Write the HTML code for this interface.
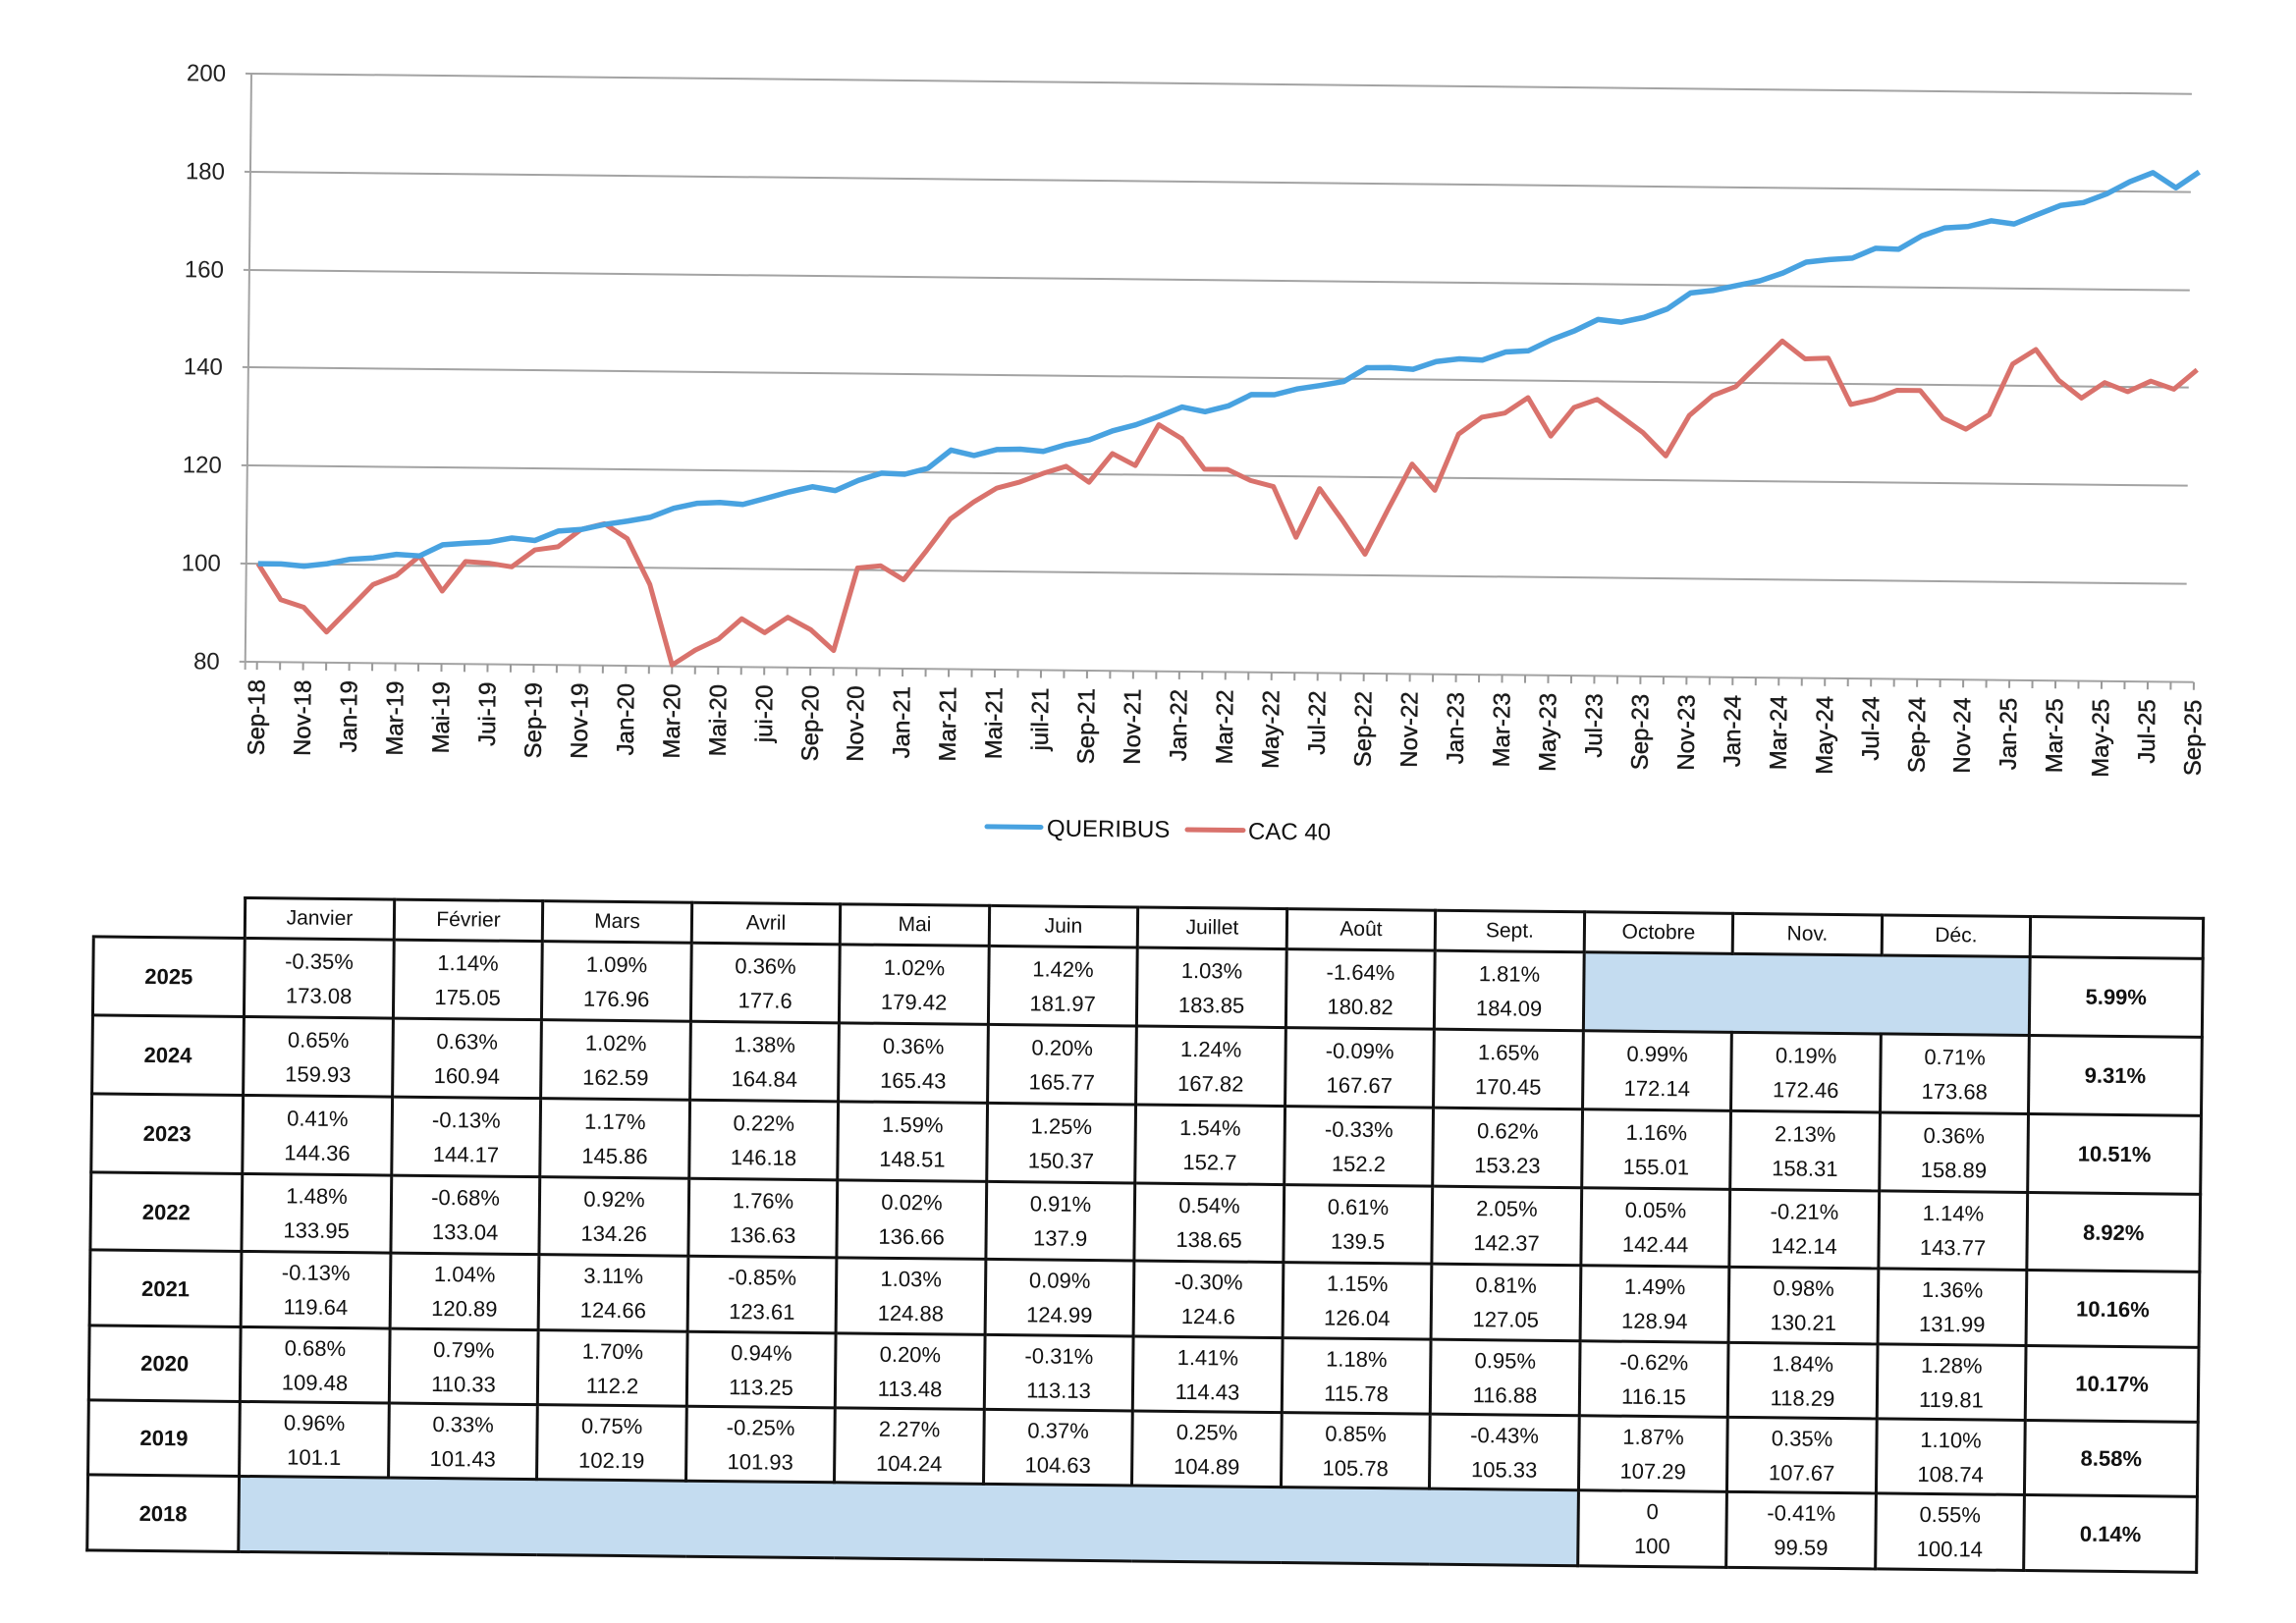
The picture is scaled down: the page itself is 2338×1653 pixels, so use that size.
<!DOCTYPE html>
<html><head><meta charset="utf-8"><style>
html,body{margin:0;padding:0;background:#fff}
#page{position:relative;width:2338px;height:1653px;overflow:hidden;background:#fff;font-family:"Liberation Sans",sans-serif}
#rot{position:absolute;left:0;top:0;width:2338px;height:1653px;transform-origin:256px 75px;transform:rotate(0.6deg)}
svg{position:absolute;left:0;top:0}
table{position:absolute;left:103px;top:913px;border-collapse:collapse;table-layout:fixed;color:#111;font-size:22px}
td{border:3px solid #111;text-align:center;vertical-align:middle;padding:0;line-height:35px}
td.y{font-weight:bold}
td.t{font-weight:bold}
td.b{background:#c4dcf0}
tr.h td{height:38px;line-height:38px;font-size:21px}
td.e{border:none;border-bottom:3px solid #111}
</style></head><body><div id="page"><div id="rot">
<svg width="2338" height="1653" viewBox="0 0 2338 1653">
<g stroke="#a3a3a3" stroke-width="2">
<line x1="256" y1="75" x2="2232" y2="75"/>
<line x1="256" y1="175" x2="2232" y2="175"/>
<line x1="256" y1="275" x2="2232" y2="275"/>
<line x1="256" y1="374" x2="2232" y2="374"/>
<line x1="256" y1="474" x2="2232" y2="474"/>
<line x1="256" y1="574" x2="2232" y2="574"/>
<line x1="250" y1="674" x2="2240" y2="674"/>
<line x1="256" y1="75" x2="256" y2="682"/>
<line x1="250" y1="75" x2="256" y2="75"/><line x1="250" y1="175" x2="256" y2="175"/><line x1="250" y1="275" x2="256" y2="275"/><line x1="250" y1="374" x2="256" y2="374"/><line x1="250" y1="474" x2="256" y2="474"/><line x1="250" y1="574" x2="256" y2="574"/>
</g>
<line x1="267" y1="678" x2="2242" y2="678" stroke="#999" stroke-width="8" stroke-dasharray="2 21.48"/>
<g font-size="24" fill="#222" text-anchor="end">
<text x="230" y="83">200</text><text x="230" y="183">180</text><text x="230" y="283">160</text><text x="230" y="382">140</text><text x="230" y="482">120</text><text x="230" y="582">100</text><text x="230" y="682">80</text>
</g>
<g transform="translate(268,1073) scale(23.48,-4.99)" fill="none" stroke-linejoin="round">
<polyline vector-effect="non-scaling-stroke" stroke="#d9726c" stroke-width="5" points="0,100 1,92.7 2,91.2 3,86.2 4,91.1 5,96 6,97.9 7,101.9 8,94.8 9,100.9 10,100.6 11,99.9 12,103.4 13,104.1 14,107.7 15,108.9 16,105.9 17,96.6 18,80.2 19,83.3 20,85.6 21,89.8 22,87 23,90.2 24,87.7 25,83.5 26,100.4 27,100.9 28,98.1 29,104.2 30,110.6 31,114.1 32,117 33,118.3 34,120.1 35,121.6 36,118.4 37,124.3 38,121.9 39,130.3 40,127.5 41,121.3 42,121.3 43,119.1 44,117.9 45,107.6 46,117.6 47,111.2 48,104.3 49,113.7 50,122.8 51,117.5 52,129 53,132.5 54,133.4 55,136.6 56,128.8 57,134.7 58,136.4 59,133.1 60,129.7 61,125 62,133.3 63,137.4 64,139.3 65,144 66,148.7 67,145.1 68,145.3 69,135.9 70,137 71,138.9 72,138.9 73,133.3 74,131.1 75,134.1 76,144.5 77,147.5 78,141.3 79,137.7 80,140.9 81,139.1 82,141.3 83,139.7 84,143.7"/>
<polyline vector-effect="non-scaling-stroke" stroke="#48a2e0" stroke-width="5.5" points="0,100 1,100 2,99.59 3,100.14 4,101.1 5,101.43 6,102.19 7,101.93 8,104.24 9,104.63 10,104.89 11,105.78 12,105.33 13,107.29 14,107.67 15,108.74 16,109.48 17,110.33 18,112.2 19,113.25 20,113.48 21,113.13 22,114.43 23,115.78 24,116.88 25,116.15 26,118.29 27,119.81 28,119.64 29,120.89 30,124.66 31,123.61 32,124.88 33,124.99 34,124.6 35,126.04 36,127.05 37,128.94 38,130.21 39,131.99 40,133.95 41,133.04 42,134.26 43,136.63 44,136.66 45,137.9 46,138.65 47,139.5 48,142.37 49,142.44 50,142.14 51,143.77 52,144.36 53,144.17 54,145.86 55,146.18 56,148.51 57,150.37 58,152.7 59,152.2 60,153.23 61,155.01 62,158.31 63,158.89 64,159.93 65,160.94 66,162.59 67,164.84 68,165.43 69,165.77 70,167.82 71,167.67 72,170.45 73,172.14 74,172.46 75,173.68 76,173.08 77,175.05 78,176.96 79,177.6 80,179.42 81,181.97 82,183.85 83,180.82 84,184.09"/>
</g>
<g font-size="24" fill="#1a1a1a" text-anchor="end" stroke="#1a1a1a" stroke-width="0.4">
<text transform="translate(276,692) rotate(-90)">Sep-18</text>
<text transform="translate(323,692) rotate(-90)">Nov-18</text>
<text transform="translate(370,692) rotate(-90)">Jan-19</text>
<text transform="translate(417,692) rotate(-90)">Mar-19</text>
<text transform="translate(464,692) rotate(-90)">Mai-19</text>
<text transform="translate(511,692) rotate(-90)">Jui-19</text>
<text transform="translate(558,692) rotate(-90)">Sep-19</text>
<text transform="translate(605,692) rotate(-90)">Nov-19</text>
<text transform="translate(652,692) rotate(-90)">Jan-20</text>
<text transform="translate(699,692) rotate(-90)">Mar-20</text>
<text transform="translate(746,692) rotate(-90)">Mai-20</text>
<text transform="translate(793,692) rotate(-90)">jui-20</text>
<text transform="translate(840,692) rotate(-90)">Sep-20</text>
<text transform="translate(886,692) rotate(-90)">Nov-20</text>
<text transform="translate(933,692) rotate(-90)">Jan-21</text>
<text transform="translate(980,692) rotate(-90)">Mar-21</text>
<text transform="translate(1027,692) rotate(-90)">Mai-21</text>
<text transform="translate(1074,692) rotate(-90)">juil-21</text>
<text transform="translate(1121,692) rotate(-90)">Sep-21</text>
<text transform="translate(1168,692) rotate(-90)">Nov-21</text>
<text transform="translate(1215,692) rotate(-90)">Jan-22</text>
<text transform="translate(1262,692) rotate(-90)">Mar-22</text>
<text transform="translate(1309,692) rotate(-90)">May-22</text>
<text transform="translate(1356,692) rotate(-90)">Jul-22</text>
<text transform="translate(1403,692) rotate(-90)">Sep-22</text>
<text transform="translate(1450,692) rotate(-90)">Nov-22</text>
<text transform="translate(1497,692) rotate(-90)">Jan-23</text>
<text transform="translate(1544,692) rotate(-90)">Mar-23</text>
<text transform="translate(1591,692) rotate(-90)">May-23</text>
<text transform="translate(1638,692) rotate(-90)">Jul-23</text>
<text transform="translate(1685,692) rotate(-90)">Sep-23</text>
<text transform="translate(1732,692) rotate(-90)">Nov-23</text>
<text transform="translate(1779,692) rotate(-90)">Jan-24</text>
<text transform="translate(1826,692) rotate(-90)">Mar-24</text>
<text transform="translate(1873,692) rotate(-90)">May-24</text>
<text transform="translate(1920,692) rotate(-90)">Jul-24</text>
<text transform="translate(1967,692) rotate(-90)">Sep-24</text>
<text transform="translate(2013,692) rotate(-90)">Nov-24</text>
<text transform="translate(2060,692) rotate(-90)">Jan-25</text>
<text transform="translate(2107,692) rotate(-90)">Mar-25</text>
<text transform="translate(2154,692) rotate(-90)">May-25</text>
<text transform="translate(2201,692) rotate(-90)">Jul-25</text>
<text transform="translate(2248,692) rotate(-90)">Sep-25</text>
</g>
<line x1="1013" y1="834" x2="1068" y2="834" stroke="#48a2e0" stroke-width="5" stroke-linecap="round"/>
<text x="1074" y="843" font-size="24" fill="#111">QUERIBUS</text>
<line x1="1217" y1="835" x2="1274" y2="835" stroke="#d9726c" stroke-width="5" stroke-linecap="round"/>
<text x="1279" y="844" font-size="24" fill="#111">CAC 40</text>
</svg>
<table>
<colgroup><col style="width:154px"><col style="width:152px"><col style="width:151px"><col style="width:152px"><col style="width:151px"><col style="width:152px"><col style="width:151px"><col style="width:152px"><col style="width:151px"><col style="width:152px"><col style="width:151px"><col style="width:152px"><col style="width:151px"><col style="width:176px"></colgroup>
<tr class="h"><td class="e"></td><td>Janvier</td><td>Février</td><td>Mars</td><td>Avril</td><td>Mai</td><td>Juin</td><td>Juillet</td><td>Août</td><td>Sept.</td><td>Octobre</td><td>Nov.</td><td>Déc.</td><td></td></tr>
<tr style="height:80px"><td class="y">2025</td><td>-0.35%<br>173.08</td><td>1.14%<br>175.05</td><td>1.09%<br>176.96</td><td>0.36%<br>177.6</td><td>1.02%<br>179.42</td><td>1.42%<br>181.97</td><td>1.03%<br>183.85</td><td>-1.64%<br>180.82</td><td>1.81%<br>184.09</td><td class="b" colspan="3"></td><td class="t">5.99%</td></tr>
<tr style="height:80px"><td class="y">2024</td><td>0.65%<br>159.93</td><td>0.63%<br>160.94</td><td>1.02%<br>162.59</td><td>1.38%<br>164.84</td><td>0.36%<br>165.43</td><td>0.20%<br>165.77</td><td>1.24%<br>167.82</td><td>-0.09%<br>167.67</td><td>1.65%<br>170.45</td><td>0.99%<br>172.14</td><td>0.19%<br>172.46</td><td>0.71%<br>173.68</td><td class="t">9.31%</td></tr>
<tr style="height:80px"><td class="y">2023</td><td>0.41%<br>144.36</td><td>-0.13%<br>144.17</td><td>1.17%<br>145.86</td><td>0.22%<br>146.18</td><td>1.59%<br>148.51</td><td>1.25%<br>150.37</td><td>1.54%<br>152.7</td><td>-0.33%<br>152.2</td><td>0.62%<br>153.23</td><td>1.16%<br>155.01</td><td>2.13%<br>158.31</td><td>0.36%<br>158.89</td><td class="t">10.51%</td></tr>
<tr style="height:79px"><td class="y">2022</td><td>1.48%<br>133.95</td><td>-0.68%<br>133.04</td><td>0.92%<br>134.26</td><td>1.76%<br>136.63</td><td>0.02%<br>136.66</td><td>0.91%<br>137.9</td><td>0.54%<br>138.65</td><td>0.61%<br>139.5</td><td>2.05%<br>142.37</td><td>0.05%<br>142.44</td><td>-0.21%<br>142.14</td><td>1.14%<br>143.77</td><td class="t">8.92%</td></tr>
<tr style="height:77px"><td class="y">2021</td><td>-0.13%<br>119.64</td><td>1.04%<br>120.89</td><td>3.11%<br>124.66</td><td>-0.85%<br>123.61</td><td>1.03%<br>124.88</td><td>0.09%<br>124.99</td><td>-0.30%<br>124.6</td><td>1.15%<br>126.04</td><td>0.81%<br>127.05</td><td>1.49%<br>128.94</td><td>0.98%<br>130.21</td><td>1.36%<br>131.99</td><td class="t">10.16%</td></tr>
<tr style="height:76px"><td class="y">2020</td><td>0.68%<br>109.48</td><td>0.79%<br>110.33</td><td>1.70%<br>112.2</td><td>0.94%<br>113.25</td><td>0.20%<br>113.48</td><td>-0.31%<br>113.13</td><td>1.41%<br>114.43</td><td>1.18%<br>115.78</td><td>0.95%<br>116.88</td><td>-0.62%<br>116.15</td><td>1.84%<br>118.29</td><td>1.28%<br>119.81</td><td class="t">10.17%</td></tr>
<tr style="height:76px"><td class="y">2019</td><td>0.96%<br>101.1</td><td>0.33%<br>101.43</td><td>0.75%<br>102.19</td><td>-0.25%<br>101.93</td><td>2.27%<br>104.24</td><td>0.37%<br>104.63</td><td>0.25%<br>104.89</td><td>0.85%<br>105.78</td><td>-0.43%<br>105.33</td><td>1.87%<br>107.29</td><td>0.35%<br>107.67</td><td>1.10%<br>108.74</td><td class="t">8.58%</td></tr>
<tr style="height:77px"><td class="y">2018</td><td class="b" colspan="9"></td><td>0<br>100</td><td>-0.41%<br>99.59</td><td>0.55%<br>100.14</td><td class="t">0.14%</td></tr>
</table>
</div></div></body></html>
